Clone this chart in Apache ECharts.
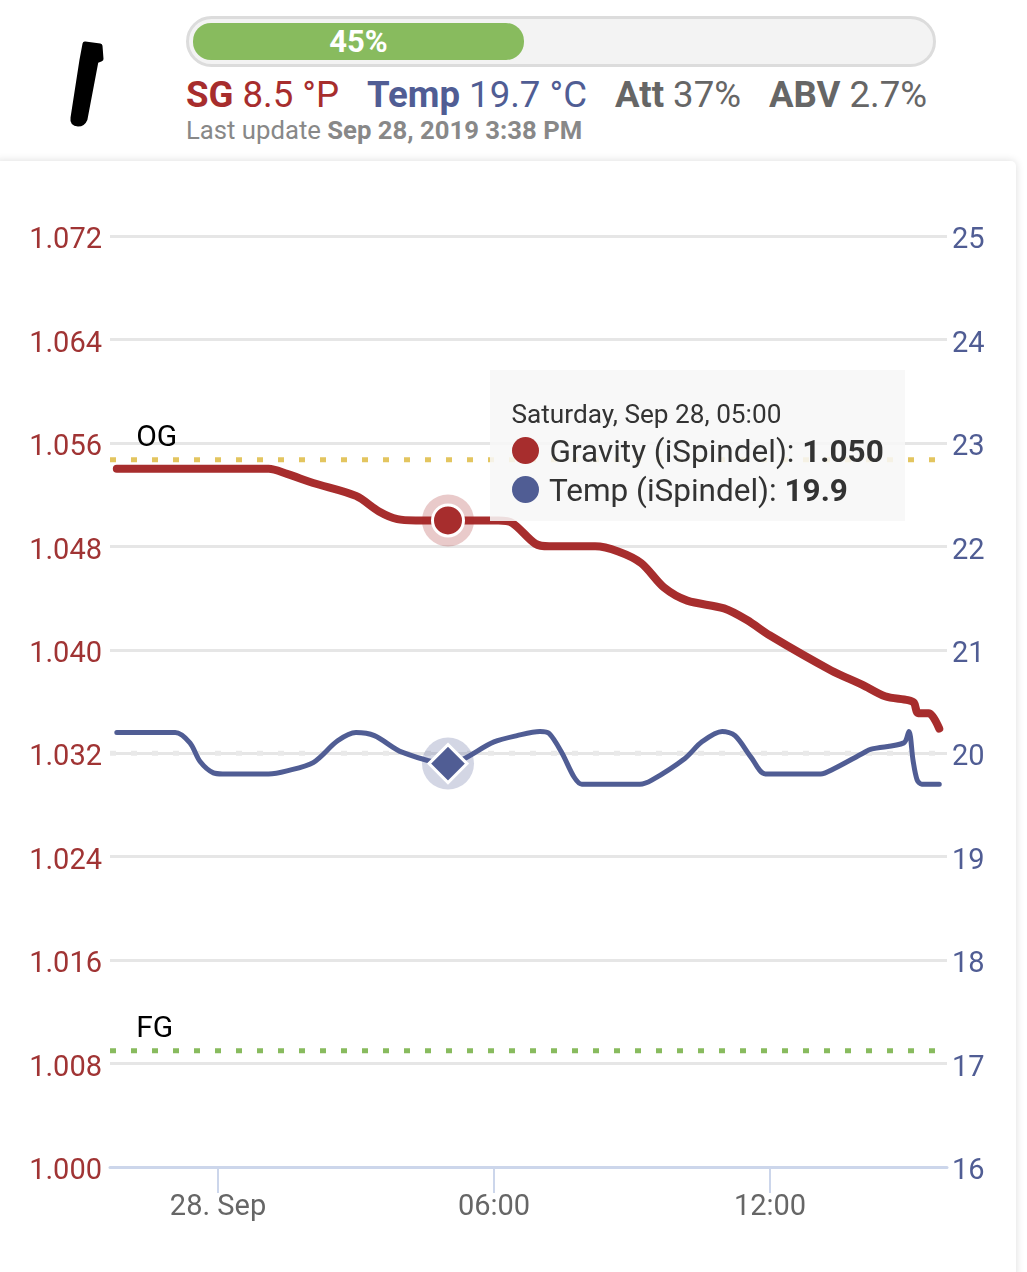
<!DOCTYPE html>
<html>
<head>
<meta charset="utf-8">
<title>iSpindel</title>
<script src="https://cdn.jsdelivr.net/npm/echarts@6/dist/echarts.min.js"></script>
<style>
  html, body { margin: 0; padding: 0; background: #fff; width: 1027px; height: 1272px; overflow: hidden; font-family: Roboto, sans-serif; }
  .abs { position: absolute; white-space: nowrap; }
  #bar { left: 186px; top: 16px; width: 744px; height: 45px; border: 3px solid #dcdcdc; border-radius: 26px; background: #f3f3f3; }
  #fill { left: 193px; top: 23px; width: 331px; height: 37px; border-radius: 18px; background: #88bb5e; color: #fff; font-weight: 700; font-size: 31px; line-height: 38px; text-align: center; }
  .stat { top: 74px; font-size: 36.6px; line-height: 42px; }
  .stat b { font-weight: 700; }
  #updated { left: 186px; top: 115px; font-size: 25.7px; line-height: 30px; color: #888; }
  #card { left: -6px; top: 161px; width: 1022px; height: 1120px; background: #fff; border-radius: 5px; box-shadow: 0 0 8px rgba(0,0,0,.14); }
  #chart { left: 0; top: 161px; width: 1016px; height: 1111px; }
</style>
</head>
<body>
<svg class="abs" style="left:60px;top:30px" width="55" height="105">
  <path d="M25 14 L40 16 L41 29 L36 31 L25 89 Q23 94 18 94 Q12 94 13 88 L22 30 Z" fill="#000" stroke="#000" stroke-width="5" stroke-linejoin="round"/>
</svg>
<div id="bar" class="abs"></div>
<div id="fill" class="abs">45%</div>
<div class="abs stat" style="left:186px;color:#a72d2d"><b>SG</b> 8.5 °P</div>
<div class="abs stat" style="left:367px;color:#505d94"><b>Temp</b> 19.7 °C</div>
<div class="abs stat" style="left:615px;color:#666"><b>Att</b> 37%</div>
<div class="abs stat" style="left:769px;color:#666"><b>ABV</b> 2.7%</div>
<div id="updated" class="abs">Last update <b>Sep 28, 2019 3:38 PM</b></div>
<div id="card" class="abs"></div>
<div id="chart" class="abs"></div>
<script>
// hours relative to Sep 28 00:00
const gravityHours = [-2.2, 1.1, 1.5, 2.07, 3, 3.5, 3.9, 4.3, 6.1, 6.4, 6.9, 7.2, 8.2, 8.7, 9.2, 9.7, 10.2, 11, 11.5, 12, 13.33, 14, 14.5, 15, 15.13, 15.22, 15.45, 15.68];
const gravityValues = [1.054, 1.054, 1.0536, 1.0529, 1.0519, 1.0507, 1.0501, 1.05, 1.05, 1.0498, 1.0482, 1.048, 1.048, 1.0476, 1.0467, 1.0448, 1.0438, 1.0432, 1.0423, 1.0411, 1.0384, 1.0373, 1.0364, 1.0361, 1.0359, 1.0351, 1.0351, 1.0339];
const tempHours = [-2.2, -0.93, -0.61, -0.39, -0.1, 0.1, 1.1, 1.5, 2.07, 2.6, 3, 3.4, 4, 5, 6, 6.5, 7, 7.2, 7.48, 7.74, 7.91, 9.17, 9.43, 10.15, 10.52, 10.96, 11.24, 11.59, 11.9, 13.1, 13.39, 14.02, 14.2, 14.91, 15.02, 15.11, 15.2, 15.3, 15.68];
const tempValues = [20.2, 20.2, 20.1, 19.92, 19.81, 19.8, 19.8, 19.83, 19.91, 20.12, 20.2, 20.17, 20.01, 19.9, 20.11, 20.17, 20.21, 20.19, 20, 19.77, 19.7, 19.7, 19.74, 19.95, 20.11, 20.21, 20.17, 19.96, 19.8, 19.8, 19.85, 20, 20.04, 20.1, 20.21, 19.93, 19.74, 19.7, 19.7];

const axisStartHour = -2.348;
const axisEndHour = 15.848;
const xTickHours = [0, 6, 12];

const og = 1.0547;
const fg = 1.009;
const tempTarget = 20;
const refLabelHour = -1.78;

const hoverHour = 5;
const hoverGravity = 1.05;
const hoverTemp = 19.9;

const RED = '#a72d2d';
const BLUE = '#505d94';

const toTime = h => Date.UTC(2019, 8, 28) + h * 3600000;
const zip = (hours, values) => hours.map((h, i) => [toTime(h), values[i]]);

function dottedLine(value, color, yAxisIndex, label) {
    const series = {
        type: 'line',
        yAxisIndex: yAxisIndex,
        symbol: 'none',
        silent: true,
        z: 1,
        data: [[toTime(axisStartHour), value], [toTime(axisEndHour), value]],
        lineStyle: { color: color, width: 5, type: [6, 15] }
    };
    if (label) {
        series.markPoint = {
            symbol: 'circle',
            symbolSize: 1,
            silent: true,
            itemStyle: { color: 'transparent' },
            label: { show: true, formatter: label, position: 'top', align: 'left', color: '#000', fontSize: 30, fontFamily: 'Roboto', offset: [0, -1] },
            data: [{ coord: [toTime(refLabelHour), value] }]
        };
    }
    return series;
}

function marker(value, yAxisIndex, symbol, color, size, border) {
    return {
        type: 'scatter',
        yAxisIndex: yAxisIndex,
        symbol: symbol,
        symbolSize: size,
        z: 5,
        data: [[toTime(hoverHour), value]],
        itemStyle: { color: color, borderColor: border ? '#fff' : 'transparent', borderWidth: border ? 3 : 0, opacity: 1 }
    };
}

const option = {
    animation: false,
    useUTC: true,
    textStyle: { fontFamily: 'Roboto' },
    grid: { left: 110, right: 69, top: 75, bottom: 105 },
    tooltip: {
        trigger: 'item',
        triggerOn: 'none',
        alwaysShowContent: true,
        transitionDuration: 0,
        backgroundColor: 'rgba(247,247,247,0.88)',
        borderWidth: 0,
        padding: 0,
        extraCssText: 'box-shadow:none;border-radius:0;',
        position: () => [490, 209],
        formatter: () => `
            <div style="width:415px;height:151px;position:relative;color:#333;font-family:Roboto;white-space:nowrap">
              <div style="position:absolute;left:21.5px;top:29px;font-size:26.2px;line-height:30px">Saturday, Sep 28, 05:00</div>
              <div style="position:absolute;left:22px;top:67px;width:27px;height:27px;border-radius:50%;background:${RED}"></div>
              <div style="position:absolute;left:59.5px;top:63px;font-size:31.5px;line-height:38px">Gravity (iSpindel): <b>${hoverGravity.toFixed(3)}</b></div>
              <div style="position:absolute;left:22px;top:106px;width:27px;height:27px;border-radius:50%;background:${BLUE}"></div>
              <div style="position:absolute;left:59px;top:102px;font-size:31.5px;line-height:38px">Temp (iSpindel): <b>${hoverTemp.toFixed(1)}</b></div>
            </div>`
    },
    xAxis: {
        type: 'value',
        min: toTime(axisStartHour),
        max: toTime(axisEndHour),
        axisLine: { lineStyle: { color: '#ccd6eb', width: 3 } },
        axisTick: { length: 26, lineStyle: { color: '#ccd6eb', width: 2 }, customValues: xTickHours.map(toTime) },
        splitLine: { show: false },
        axisLabel: {
            customValues: xTickHours.map(toTime),
            color: '#666',
            fontSize: 29,
            margin: 26,
            formatter: value => {
                const h = new Date(value).getUTCHours();
                if (h === 0) return '28. Sep';
                return String(h).padStart(2, '0') + ':00';
            }
        }
    },
    yAxis: [
        {
            type: 'value',
            min: 1,
            max: 1.072,
            interval: 0.008,
            axisLine: { show: false },
            axisTick: { show: false },
            splitLine: { lineStyle: { color: '#e6e6e6', width: 3 } },
            // short line box so the numbers sit just under their grid line
            axisLabel: { color: '#a03434', fontSize: 29, margin: 8, verticalAlign: 'top', lineHeight: 10, formatter: v => v.toFixed(3) }
        },
        {
            type: 'value',
            position: 'right',
            min: 16,
            max: 25,
            interval: 1,
            axisLine: { show: false },
            axisTick: { show: false },
            splitLine: { show: false },
            axisLabel: { color: BLUE, fontSize: 29, margin: 5, verticalAlign: 'top', lineHeight: 10 }
        }
    ],
    series: [
        dottedLine(og, '#e3c55f', 0, 'OG'),
        dottedLine(fg, '#88bb5e', 0, 'FG'),
        dottedLine(tempTarget, '#e9e9e9', 1),
        {
            name: 'Gravity (iSpindel)',
            type: 'line',
            yAxisIndex: 0,
            symbol: 'none',
            smooth: 0.3,
            z: 3,
            data: zip(gravityHours, gravityValues),
            lineStyle: { color: RED, width: 8, cap: 'round', join: 'round' }
        },
        {
            name: 'Temp (iSpindel)',
            type: 'line',
            yAxisIndex: 1,
            symbol: 'none',
            smooth: 0.3,
            z: 3,
            data: zip(tempHours, tempValues),
            lineStyle: { color: BLUE, width: 5, cap: 'round', join: 'round' }
        },
        marker(hoverGravity, 0, 'circle', 'rgba(167,45,45,0.25)', 52, false),
        marker(hoverTemp, 1, 'circle', 'rgba(80,93,148,0.25)', 52, false),
        marker(hoverGravity, 0, 'circle', RED, 31, true),
        marker(hoverTemp, 1, 'diamond', BLUE, 38, true)
    ]
};

const chart = echarts.init(document.getElementById('chart'));
chart.setOption(option);
chart.dispatchAction({ type: 'showTip', seriesIndex: 8, dataIndex: 0 });
</script>
</body>
</html>
